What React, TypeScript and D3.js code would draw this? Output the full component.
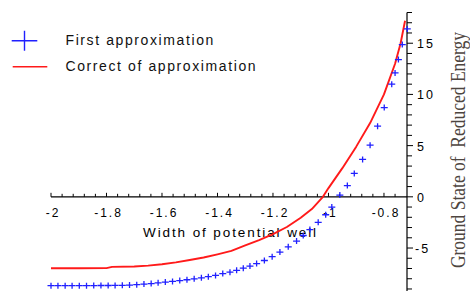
import * as d3 from 'd3'

const W = 470
const H = 291

// First approximation (blue crosses)
const firstX = [
  -2.0, -1.975, -1.949, -1.924, -1.898, -1.872, -1.846, -1.82, -1.794, -1.769, -1.743, -1.717, -1.691,
  -1.665, -1.639, -1.614, -1.588, -1.562, -1.536, -1.51, -1.484, -1.458, -1.433, -1.407, -1.381, -1.355,
  -1.331, -1.307, -1.283, -1.259, -1.231, -1.203, -1.175, -1.145, -1.115, -1.091, -1.067, -1.037, -1.01,
  -0.988, -0.959, -0.932, -0.907, -0.877, -0.85, -0.823, -0.799, -0.772, -0.76, -0.748, -0.734, -0.716,
]
const firstY = [
  -8.68, -8.68, -8.68, -8.68, -8.68, -8.68, -8.67, -8.66, -8.66, -8.65, -8.64, -8.62, -8.58,
  -8.52, -8.47, -8.4, -8.33, -8.26, -8.18, -8.1, -8.01, -7.91, -7.8, -7.68, -7.5, -7.36,
  -7.18, -6.97, -6.76, -6.52, -6.22, -5.85, -5.4, -4.88, -4.32, -3.78, -3.2, -2.49, -1.75,
  -1.0, 0.17, 1.1, 2.28, 3.65, 5.04, 6.9, 8.72, 11.0, 12.1, 13.4, 14.87, 16.4,
]

// Correct of approximation (red line)
const correctX = [
  -2, -1.9, -1.8, -1.78, -1.7, -1.65, -1.6, -1.55, -1.5, -1.45, -1.4, -1.35, -1.3, -1.25,
  -1.2, -1.15, -1.1, -1.06, -1.02, -1.0, -0.95, -0.9, -0.85, -0.8, -0.76, -0.74, -0.724,
]
const correctY = [
  -6.98, -6.98, -6.96, -6.84, -6.8, -6.72, -6.59, -6.4, -6.17, -5.93, -5.62, -5.28, -4.75, -4.22,
  -3.65, -2.95, -2.05, -1.2, 0, 0.85, 2.8, 4.9, 7.2, 10.0, 13.0, 15.0, 17.2,
]

const xTickValues = [-2, -1.8, -1.6, -1.4, -1.2, -1, -0.8]
const xTickLabels = ['-2', '-1.8', '-1.6', '-1.4', '-1.2', '-1', '-0.8']
const yTickValues = [-5, 0, 5, 10, 15]
const yTickLabels = ['-5', '0', '5', '10', '15']

const legendLabels = ['First approximation', 'Correct of approximation']

const BLUE = '#2020ff'
const RED = '#ff1a1a'
const SANS = '"Liberation Sans", Arial, Helvetica, sans-serif'

export default function App() {
  const x = d3.scaleLinear().domain([-2, -0.717]).range([51, 407])
  const y = d3.scaleLinear().domain([-9.1, 18]).range([290, 12.5])

  const x0 = x(-2)
  const axisY = y(0)
  const axisX = x(-0.717)

  const xMinor = d3.range(0, 32).map((i) => -2 + i * 0.04)
  const yMinor = d3.range(-9, 19)

  const line = d3
    .line<number>()
    .x((d, i) => x(correctX[i]))
    .y((d) => y(d))

  const firstPts = firstX.map((v, i) => [x(v), y(firstY[i])])

  return (
    <svg
      width={W}
      height={H}
      style={{ position: 'absolute', left: 0, top: 0, background: '#fff' }}
      fontFamily={SANS}
    >
      {/* axes */}
      <line x1={x0} x2={axisX} y1={axisY} y2={axisY} stroke="#000" strokeWidth={1.2} />
      {xMinor.map((v, i) => (
        <line
          key={'xt' + i}
          x1={x(v)}
          x2={x(v)}
          y1={axisY}
          y2={axisY - (i % 5 === 0 ? 4 : 3)}
          stroke="#000"
          strokeWidth={1}
        />
      ))}
      {xTickValues.map((v, i) => (
        <text
          key={'xl' + i}
          x={x(v) + 2}
          y={216.5}
          textAnchor="middle"
          fontSize={12}
          style={{ letterSpacing: '2px' }}
          fill="#000"
        >
          {xTickLabels[i]}
        </text>
      ))}
      <text x={143} y={237} fontSize={13.5} style={{ letterSpacing: '1.9px' }} fill="#000">
        Width of potential well
      </text>

      <line x1={axisX} x2={axisX} y1={y(18)} y2={H} stroke="#000" strokeWidth={1.2} />
      {yMinor.map((v) => (
        <line
          key={'yt' + v}
          x1={axisX}
          x2={axisX + (v % 5 === 0 ? 6 : 5)}
          y1={y(v)}
          y2={y(v)}
          stroke="#000"
          strokeWidth={1}
        />
      ))}
      {yTickValues.map((v, i) => (
        <text
          key={'yl' + i}
          x={v < 0 ? 415 : 417}
          y={y(v) + 5}
          fontSize={12.5}
          style={{ letterSpacing: '2px' }}
          fill="#000"
        >
          {yTickLabels[i]}
        </text>
      ))}
      <text
        transform={`translate(465,${150}) rotate(-90) scale(1,1.15)`}
        textAnchor="middle"
        fontFamily='"Liberation Serif", "Times New Roman", serif'
        fontSize={17.5}
        fill="#4d4540"
        style={{ whiteSpace: 'pre' }}
      >
        {'Ground State of  Reduced Energy'}
      </text>

      {/* red curve */}
      <path d={line(correctY) || ''} fill="none" stroke={RED} strokeWidth={1.9} strokeLinejoin="round" />

      {/* blue crosses */}
      {firstPts.map(([px, py], i) => (
        <path
          key={'p' + i}
          d={`M${px - 3.5},${py}H${px + 3.5}M${px},${py - 3}V${py + 3}`}
          stroke={BLUE}
          strokeWidth={1.3}
          fill="none"
        />
      ))}

      {/* legend */}
      <path d="M11.7,40.7H37.3M24.5,30.7V50.7" stroke={BLUE} strokeWidth={1.4} fill="none" />
      <text x={65.5} y={45} fontSize={14} style={{ letterSpacing: '1.6px' }} fill="#111">
        {legendLabels[0]}
      </text>
      <line x1={12.7} x2={47.3} y1={66.7} y2={66.7} stroke={RED} strokeWidth={1.4} />
      <text x={65.5} y={71} fontSize={14} style={{ letterSpacing: '1.6px' }} fill="#111">
        {legendLabels[1]}
      </text>
    </svg>
  )
}
